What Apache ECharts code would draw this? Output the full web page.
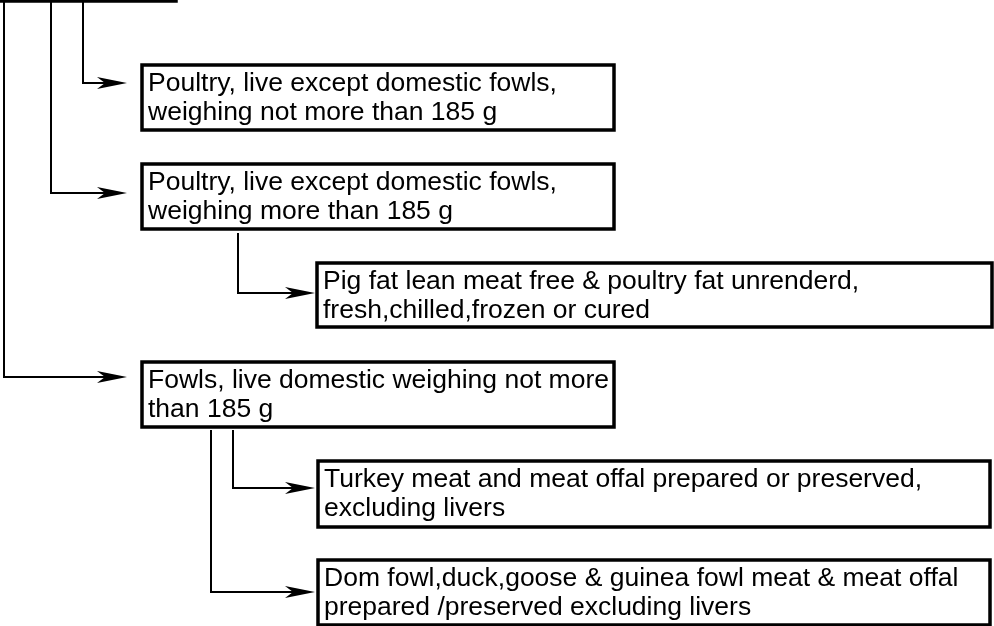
<!DOCTYPE html>
<html>
<head>
<meta charset="utf-8">
<script src="https://cdn.jsdelivr.net/npm/echarts@6/dist/echarts.min.js"></script>
<style>
  html, body { margin: 0; padding: 0; background: #fff; }
  #chart { width: 994px; height: 626px; }
</style>
</head>
<body>
<div id="chart"></div>
<script>
// box labels (top one is the parent, cut off by the top edge)
const boxLabels = [
  '',
  'Poultry, live except domestic fowls,\nweighing not more than 185 g',
  'Poultry, live except domestic fowls,\nweighing more than 185 g',
  'Pig fat lean meat free & poultry fat unrenderd,\nfresh,chilled,frozen or cured',
  'Fowls, live domestic weighing not more\nthan 185 g',
  'Turkey meat and meat offal prepared or preserved,\nexcluding livers',
  'Dom fowl,duck,goose & guinea fowl meat & meat offal\nprepared /preserved excluding livers'
];
// box extents in diagram units: left, top, right, bottom
const boxLeft   = [-20, 142, 142, 317, 142, 318, 318];
const boxTop    = [-60,  65, 164, 263, 362, 461, 560];
const boxRight  = [176, 614, 614, 992, 614, 990, 990];
const boxBottom = [  1, 130, 229, 327, 427, 527, 625];

// connectors: elbow lines (start x, start y, bend y, arrow tip x)
const linkX   = [4,   51,  83,  238, 233, 211];
const linkY0  = [0,   0,   0,   233, 430, 430];
const linkY1  = [377, 193, 83,  293, 488, 592];
const linkEnd = [127, 127, 127, 315, 315, 315];

const boxData = boxLabels.map((t, i) => [boxLeft[i], boxTop[i], boxRight[i], boxBottom[i], t]);
const linkData = linkX.map((x, i) => [x, linkY0[i], linkY1[i], linkEnd[i]]);

const chart = echarts.init(document.getElementById('chart'));
chart.setOption({
  animation: false,
  grid: { left: 0, right: 0, top: 0, bottom: 0 },
  xAxis: { type: 'value', min: 0, max: 994, show: false },
  yAxis: { type: 'value', min: 0, max: 626, inverse: true, show: false },
  series: [
    {
      type: 'custom',
      clip: true,
      data: linkData,
      encode: { x: [0, 3], y: [1, 2] },
      renderItem: function (params, api) {
        const a = api.coord([api.value(0), api.value(1)]);
        const b = api.coord([api.value(0), api.value(2)]);
        const c = api.coord([api.value(3), api.value(2)]);
        const tip = c[0], y = c[1];
        return {
          type: 'group',
          children: [
            {
              type: 'polyline',
              shape: { points: [a, b, [tip - 8, y]] },
              style: { stroke: '#000', lineWidth: 2, fill: null }
            },
            {
              type: 'polygon',
              shape: { points: [[tip, y], [tip - 30, y - 6], [tip - 22, y], [tip - 30, y + 6]] },
              style: { fill: '#000', stroke: null }
            }
          ]
        };
      }
    },
    {
      type: 'custom',
      clip: true,
      data: boxData,
      encode: { x: [0, 2], y: [1, 3] },
      renderItem: function (params, api) {
        const p0 = api.coord([api.value(0), api.value(1)]);
        const p1 = api.coord([api.value(2), api.value(3)]);
        const label = boxData[params.dataIndex][4];
        return {
          type: 'group',
          children: [
            {
              type: 'rect',
              shape: { x: p0[0], y: p0[1], width: p1[0] - p0[0], height: p1[1] - p0[1] },
              style: { fill: '#fff', stroke: '#000', lineWidth: 3.5 }
            },
            {
              type: 'text',
              x: p0[0] + 6,
              y: p0[1] + 4,
              style: {
                text: label,
                fill: '#000',
                font: '26.5px "Liberation Sans", Arial, sans-serif',
                lineHeight: 29,
                textAlign: 'left',
                textVerticalAlign: 'top'
              }
            }
          ]
        };
      }
    }
  ]
});
</script>
</body>
</html>
